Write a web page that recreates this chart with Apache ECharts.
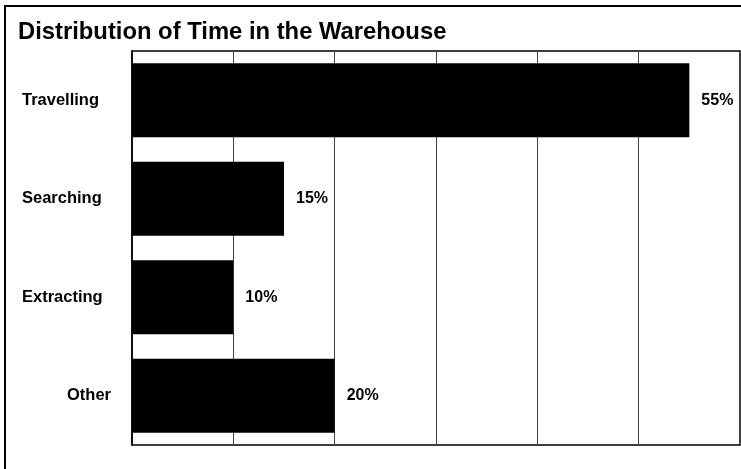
<!DOCTYPE html>
<html>
<head>
<meta charset="utf-8">
<script src="https://cdn.jsdelivr.net/npm/echarts@6/dist/echarts.min.js"></script>
<style>
  html,body{margin:0;padding:0;background:#fff;}
  #chart{width:741px;height:469px;}
</style>
</head>
<body>
<div id="chart"></div>
<script>
"use strict";

// data
var categories=['Travelling','Searching','Extracting','Other'];
var shares=[55,15,10,20];
var axisMax=60;
var axisStep=10;

var FONT='"Liberation Sans", Arial, sans-serif';

var chart=echarts.init(document.getElementById('chart'));

var yData=categories.map(function(c){
  // the last label sits further right in the original
  if (c==='Other') return {value:c,textStyle:{align:'left',padding:[0,0,0,45]}};
  return c;
});

chart.setOption({
  animation:false,
  backgroundColor:'#fff',
  title:{
    text:'Distribution of Time in the Warehouse',
    left:13,top:15,
    textStyle:{fontFamily:FONT,fontSize:23.8,fontWeight:'bold',color:'#000'}
  },
  graphic:[{
    type:'rect',
    shape:{x:5,y:6,width:800,height:600},
    style:{fill:'none',stroke:'#000',lineWidth:2},
    silent:true
  }],
  grid:{
    left:132,top:51,right:1,bottom:24,
    containLabel:false,outerBoundsMode:'none',
    show:true,borderColor:'#000',borderWidth:1.5,backgroundColor:'transparent'
  },
  xAxis:{
    type:'value',min:0,max:axisMax,interval:axisStep,
    axisLabel:{show:false},axisTick:{show:false},axisLine:{show:false},
    splitLine:{show:true,lineStyle:{color:'#444',width:1}}
  },
  yAxis:{
    type:'category',data:yData,inverse:true,
    axisTick:{show:false},
    axisLine:{show:true,lineStyle:{color:'#000',width:1.5}},
    axisLabel:{
      align:'left',margin:110,
      fontFamily:FONT,fontSize:16.5,fontWeight:'bold',color:'#000'
    }
  },
  series:[{
    type:'bar',
    data:shares,
    barWidth:74,
    itemStyle:{color:'#000'},
    label:{
      show:true,position:'right',distance:12,
      formatter:'{c}%',
      fontFamily:FONT,fontSize:16,fontWeight:'bold',color:'#000'
    }
  }]
});
</script>
</body>
</html>
